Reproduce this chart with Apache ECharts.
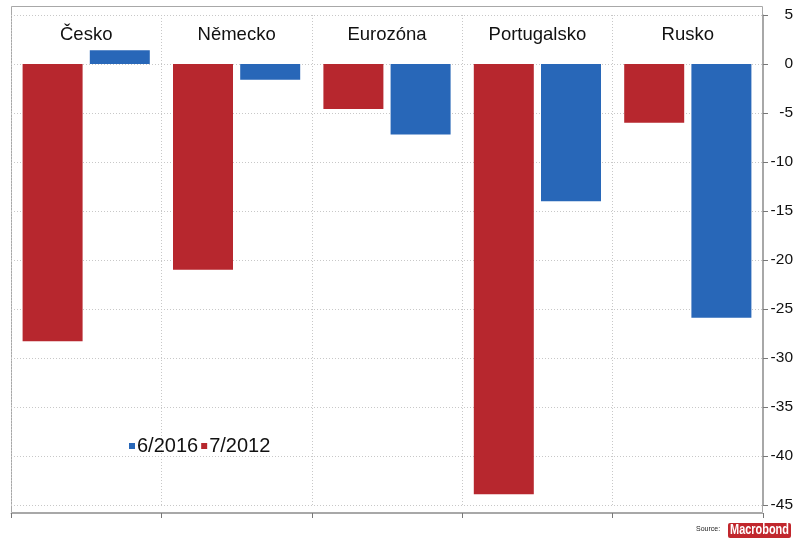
<!DOCTYPE html>
<html>
<head>
<meta charset="utf-8">
<script src="https://cdn.jsdelivr.net/npm/echarts@6/dist/echarts.min.js"></script>
<style>html,body{margin:0;padding:0;background:#fff}#c{width:800px;height:542px}</style>
</head>
<body>
<div id="c"></div>
<script>
var categories = ['Česko', 'Německo', 'Eurozóna', 'Portugalsko', 'Rusko'];
var seriesNames = ['6/2016', '7/2012'];
var values2016 = [1.4, -1.6, -7.2, -14.0, -25.9];
var values2012 = [-28.3, -21.0, -4.6, -43.9, -6.0];
var yTicks = [5, 0, -5, -10, -15, -20, -25, -30, -35, -40, -45];

var RED = '#b7272e', BLUE = '#2867b8';
var FONT = 'Liberation Sans, Arial, sans-serif';
var gridStyle = { color: '#c8c8c8', type: [1, 2], width: 1 };

var chart = echarts.init(document.getElementById('c'));
chart.setOption({
  animation: false,
  backgroundColor: '#fff',
  grid: { left: 11, right: 37, top: 15, bottom: 37 },
  legend: {
    left: 124, top: 431,
    data: seriesNames,
    icon: 'rect', itemWidth: 6, itemHeight: 6, itemGap: 3,
    textStyle: { fontFamily: FONT, fontSize: 20, color: '#111', padding: [0, 0, 0, -3] }
  },
  xAxis: [{
    type: 'category', data: categories, position: 'bottom', offset: 8,
    boundaryGap: true,
    axisLine: { show: true, onZero: false, lineStyle: { color: '#a8a8a8', width: 1 } },
    axisTick: { show: true, length: 5, inside: false, lineStyle: { color: '#777' } },
    axisLabel: { show: false },
    splitLine: { show: true, lineStyle: gridStyle }
  }, {
    type: 'category', data: categories, position: 'top',
    boundaryGap: true,
    axisLine: { show: false, onZero: false }, axisTick: { show: false },
    axisLabel: { show: true, inside: true, margin: 10, fontFamily: FONT, fontSize: 18.5, color: '#111' },
    splitLine: { show: false }
  }],
  yAxis: {
    type: 'value', position: 'right', min: -45, max: 5, interval: 5,
    axisLine: { show: true, lineStyle: { color: '#a8a8a8' } },
    axisTick: { show: true, length: 5, lineStyle: { color: '#777' } },
    axisLabel: {
      margin: 30, align: 'right', fontFamily: FONT, fontSize: 15.5, color: '#111',
      formatter: function (v) { return yTicks.indexOf(v) >= 0 ? String(v) : ''; }
    },
    splitLine: { show: true, lineStyle: gridStyle }
  },
  series: [{
    name: '7/2012', type: 'bar', data: values2012, barWidth: 60, barGap: '12%',
    itemStyle: { color: RED }
  }, {
    name: '6/2016', type: 'bar', data: values2016, barWidth: 60, barGap: '12%',
    itemStyle: { color: BLUE }
  }],
  graphic: [{
    type: 'rect', shape: { x: 11.5, y: 6.5, width: 751, height: 506 },
    style: { fill: 'none', stroke: '#a8a8a8', lineWidth: 1 }, silent: true
  }, {
    type: 'text', left: 696, top: 526,
    style: { text: 'Source:', fontFamily: FONT, fontSize: 7, fill: '#222' }
  }, {
    type: 'rect', shape: { x: 728, y: 523, width: 63, height: 15, r: 2 },
    style: { fill: '#c1272d' }
  }, {
    type: 'text', x: 759.5, y: 530.5, scaleX: 0.78, scaleY: 1,
    style: { text: 'Macrobond', fontFamily: FONT, fontWeight: 'bold', fontSize: 14, fill: '#fff', align: 'center', verticalAlign: 'middle' }
  }]
});
</script>
</body>
</html>
